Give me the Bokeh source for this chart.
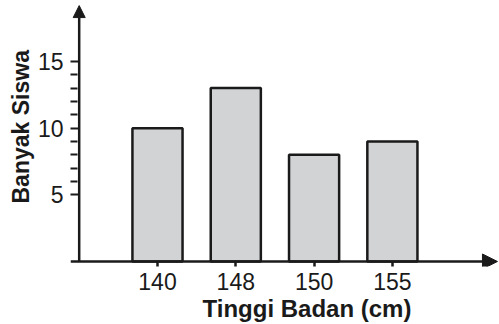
from bokeh.plotting import figure
from bokeh.models import Range1d, FixedTicker, Arrow, NormalHead, Title
from bokeh.embed import file_html
from bokeh.resources import INLINE

categories = ["140", "148", "150", "155"]
counts = [10, 13, 8, 9]
y_ticks = [5, 10, 15]
y_minor_ticks = [6, 7, 8, 9, 11, 12, 13, 14]
x_title = "Tinggi Badan (cm)"
y_title = "Banyak Siswa"

positions = list(range(1, len(categories) + 1))

X_LO, X_HI = -0.111, 5.368
Y_LO, Y_HI = -0.375, 19.57
X_ARROW_END = 5.342
Y_ARROW_END = 19.19
INK = "#1a1a1a"
FONT = "Liberation Sans"

p = figure(width=499, height=324, output_backend="svg", toolbar_location=None,
           x_range=Range1d(X_LO, X_HI), y_range=Range1d(Y_LO, Y_HI),
           min_border_left=70, min_border_right=0, min_border_top=0,
           min_border_bottom=58)
p.outline_line_color = None
p.grid.visible = False
p.background_fill_color = "white"
p.border_fill_color = "white"

p.vbar(x=positions, top=counts, bottom=0, width=0.64,
       fill_color="#d2d3d5", line_color=INK, line_width=2.5)

xa = p.xaxis[0]
xa.ticker = FixedTicker(ticks=positions, minor_ticks=[])
xa.major_label_overrides = {pos: c for pos, c in zip(positions, categories)}
xa.axis_line_color = None
xa.major_tick_in = 5
xa.major_tick_out = 0
xa.major_tick_line_width = 2.5
xa.major_tick_line_color = INK
xa.minor_tick_out = 0
xa.minor_tick_in = 0
xa.major_label_standoff = 6
xa.major_label_text_font = FONT
xa.major_label_text_font_size = "23px"
xa.major_label_text_color = INK

ya = p.yaxis[0]
ya.ticker = FixedTicker(ticks=y_ticks, minor_ticks=y_minor_ticks)
ya.axis_line_color = None
ya.major_tick_in = 9
ya.major_tick_out = 0
ya.minor_tick_in = 7
ya.minor_tick_out = 0
ya.major_tick_line_width = 2.2
ya.minor_tick_line_width = 2
ya.major_tick_line_color = INK
ya.minor_tick_line_color = INK
ya.major_label_standoff = 7
ya.major_label_text_font = FONT
ya.major_label_text_font_size = "23px"
ya.major_label_text_color = INK

p.add_layout(Arrow(end=NormalHead(size=12, fill_color=INK, line_color=INK),
                   x_start=0, y_start=0, x_end=0, y_end=Y_ARROW_END,
                   line_width=2.5, line_color=INK))
p.add_layout(Arrow(end=NormalHead(size=15, fill_color=INK, line_color=INK),
                   x_start=X_LO, y_start=0, x_end=X_ARROW_END, y_end=0,
                   line_width=2.5, line_color=INK))

p.add_layout(Title(text=x_title, align="left", offset=132, standoff=0,
                   text_font=FONT, text_font_size="24px", text_font_style="bold",
                   text_color=INK), "below")
p.add_layout(Title(text=y_title, align="left", offset=63, standoff=2,
                   text_font=FONT, text_font_size="23px", text_font_style="bold",
                   text_color=INK), "left")

open("out.html", "w").write(file_html(p, INLINE))
